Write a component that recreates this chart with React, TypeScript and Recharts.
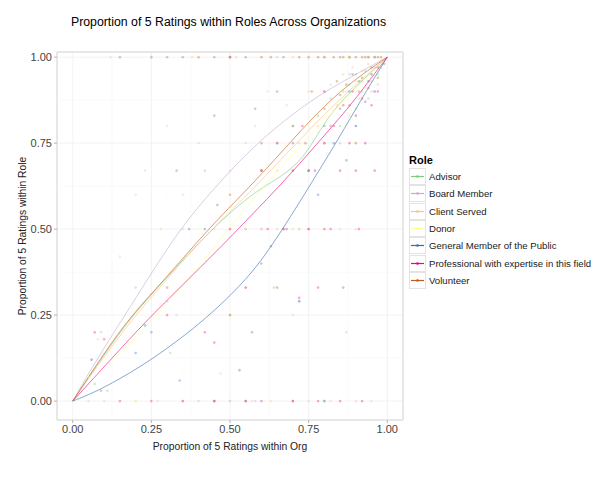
import React from 'react';
import { ComposedChart, Line, Scatter, XAxis, YAxis, CartesianGrid, ReferenceLine, ReferenceArea } from 'recharts';

type Pt = [number, number];

// role names and their colours (Brewer "Accent")
const roles = [
  'Advisor',
  'Board Member',
  'Client Served',
  'Donor',
  'General Member of the Public',
  'Professional with expertise in this field',
  'Volunteer',
];
const roleColors = ['#7fc97f', '#beaed4', '#fdc086', '#ffff99', '#386cb0', '#f0027f', '#bf5b17'];

const axisTicks = [0, 0.25, 0.5, 0.75, 1];
const minorTicks = [0.125, 0.375, 0.625, 0.875];

// smoothed trend per role
const advisorLine: Pt[] = [[0, 0], [0.1, 0.135], [0.19, 0.25], [0.3, 0.36], [0.43, 0.49], [0.562, 0.598], [0.64, 0.64], [0.72, 0.69], [0.774, 0.768], [0.826, 0.845], [0.9, 0.915], [1, 1]];
const boardLine: Pt[] = [[0, 0], [0.05, 0.08], [0.1, 0.155], [0.166, 0.25], [0.235, 0.35], [0.34, 0.5], [0.45, 0.62], [0.562, 0.729], [0.67, 0.815], [0.774, 0.884], [0.86, 0.93], [0.93, 0.965], [1, 1]];
const clientLine: Pt[] = [[0, 0], [0.1, 0.13], [0.2, 0.25], [0.3, 0.355], [0.43, 0.49], [0.562, 0.605], [0.67, 0.71], [0.774, 0.81], [0.88, 0.905], [1, 1]];
const donorLine: Pt[] = [[0, 0], [0.1, 0.09], [0.267, 0.25], [0.363, 0.35], [0.46, 0.46], [0.562, 0.575], [0.67, 0.69], [0.774, 0.79], [0.88, 0.89], [1, 1]];
const publicLine: Pt[] = [[0, 0], [0.05, 0.018], [0.118, 0.048], [0.235, 0.11], [0.363, 0.195], [0.45, 0.262], [0.555, 0.355], [0.641, 0.46], [0.774, 0.656], [0.869, 0.8], [0.932, 0.9], [1, 1]];
const proLine: Pt[] = [[0, 0], [0.1, 0.1], [0.235, 0.235], [0.347, 0.335], [0.5, 0.475], [0.562, 0.535], [0.668, 0.635], [0.774, 0.745], [0.879, 0.855], [0.937, 0.925], [1, 1]];
const volunteerLine: Pt[] = [[0, 0], [0.1, 0.14], [0.187, 0.25], [0.289, 0.35], [0.43, 0.5], [0.562, 0.622], [0.67, 0.73], [0.774, 0.836], [0.88, 0.925], [1, 1]];

// org-level points per role
const advisorPts: Pt[] = [[0.07, 0.05], [0.11, 0.03], [0.2, 0.33], [0.31, 0.14], [0.42, 0.67], [0.5, 0], [0.55, 0.5], [0.6, 0.67], [0.65, 0.75], [0.7, 0.8], [0.72, 0.5], [0.75, 0.67], [0.78, 0.83], [0.8, 0.75], [0.82, 0.88], [0.85, 0.8], [0.86, 0.9], [0.88, 0.92], [0.9, 0.85], [0.9, 0.95], [0.92, 0.9], [0.93, 0.96], [0.94, 0.88], [0.95, 0.93], [0.96, 1], [0.97, 0.95], [0.98, 0.97], [0.88, 1], [0.64, 0.33], [0.8, 0]];
const boardPts: Pt[] = [[0.06, 0.12], [0.09, 0.2], [0.3, 0.29], [0.45, 0], [0.5, 0.25], [0.6, 0.5], [0.65, 1], [0.7, 0.67], [0.75, 0.5], [0.8, 0.9], [0.85, 0.75], [0.88, 0.95], [0.9, 0.8], [0.92, 0.93], [0.94, 1], [0.95, 0.9], [0.96, 0.97], [0.97, 0.92], [0.72, 0.29], [0.87, 0.2], [0.58, 0], [0.4, 0]];
const clientPts: Pt[] = [[0.05, 0], [0.08, 0.18], [0.12, 1], [0.15, 0.42], [0.2, 0.6], [0.23, 0.67], [0.28, 0.5], [0.3, 0.8], [0.35, 0.6], [0.38, 1], [0.4, 0.75], [0.45, 0.5], [0.5, 0.67], [0.52, 1], [0.55, 0.75], [0.58, 0.8], [0.6, 0.5], [0.62, 0.9], [0.65, 0.67], [0.68, 0.86], [0.7, 1], [0.72, 0.75], [0.75, 0.9], [0.78, 0.8], [0.8, 1], [0.82, 0.92], [0.84, 0.86], [0.86, 0.95], [0.87, 0.9], [0.88, 0.83], [0.89, 0.97], [0.9, 0.93], [0.91, 0.88], [0.92, 0.96], [0.93, 0.91], [0.94, 0.98], [0.95, 0.94], [0.96, 0.9], [0.97, 0.96], [0.98, 0.99], [0.33, 0.25], [0.55, 0.33], [0.7, 0.25], [0.85, 0.5], [0.75, 0], [0.9, 0], [0.63, 0], [0.27, 0], [0.47, 0.08], [0.35, 0.5], [0.5, 0.5], [0.55, 0.5], [0.65, 0.5], [0.7, 0.5], [0.75, 0.5], [0.8, 0.5], [0.9, 0.5], [0.1, 0], [0.2, 0], [0.35, 0], [0.57, 0], [0.82, 0], [0.95, 0]];
const donorPts: Pt[] = [[0.05, 0.07], [0.1, 0.25], [0.2, 0], [0.35, 0.08], [0.4, 0.5], [0.5, 0.25], [0.55, 0.67], [0.6, 1], [0.65, 0.33], [0.7, 0.5], [0.75, 0.8], [0.8, 0.67], [0.85, 0.9], [0.88, 1], [0.9, 0.75], [0.92, 0.88], [0.95, 0.95], [0.97, 0.92], [0.3, 0.6], [0.45, 0.75]];
const publicPts: Pt[] = [[0.06, 0.12], [0.2, 0.14], [0.23, 0.22], [0.25, 0.2], [0.34, 0.06], [0.37, 0.5], [0.42, 0.5], [0.46, 0.57], [0.53, 0.09], [0.57, 0.2], [0.6, 0.4], [0.63, 0.45], [0.67, 0.5], [0.7, 0.75], [0.72, 0.29], [0.75, 0.67], [0.78, 0.6], [0.8, 0.8], [0.83, 0.75], [0.85, 0.85], [0.87, 0.7], [0.88, 0.9], [0.9, 0.8], [0.91, 0.93], [0.93, 0.87], [0.95, 0.95], [0.96, 0.9], [0.97, 0.97], [0.8, 0], [0.55, 0], [0.86, 0.33]];
const proPts: Pt[] = [[0.07, 0.2], [0.1, 0.18], [0.3, 0.25], [0.42, 0.2], [0.45, 0.17], [0.5, 0.5], [0.55, 0.33], [0.6, 0.67], [0.62, 0.5], [0.65, 0.75], [0.68, 0.5], [0.7, 0.67], [0.72, 0.3], [0.73, 0.8], [0.75, 0.5], [0.77, 0.67], [0.78, 0.33], [0.8, 0.75], [0.82, 0.5], [0.83, 0.8], [0.85, 0.67], [0.86, 0.86], [0.88, 0.75], [0.89, 0.9], [0.9, 0.83], [0.91, 0.5], [0.92, 0.88], [0.93, 0.75], [0.94, 0.93], [0.95, 0.86], [0.96, 0.67], [0.97, 0.9], [0.5, 1], [0.7, 0], [0.85, 0], [0.35, 0], [0.6, 0], [0.9, 0.67], [0.8, 0.9], [0.15, 0], [0.25, 0], [0.45, 0], [0.55, 0], [0.78, 0], [0.92, 0]];
const volunteerPts: Pt[] = [[0.09, 0.03], [0.15, 1], [0.25, 1], [0.3, 0.33], [0.33, 0.67], [0.4, 1], [0.45, 0.83], [0.5, 0.6], [0.55, 1], [0.58, 0.85], [0.6, 0.75], [0.63, 1], [0.65, 0.9], [0.67, 0.5], [0.7, 0.8], [0.72, 1], [0.74, 0.75], [0.76, 0.9], [0.78, 1], [0.8, 0.85], [0.82, 0.8], [0.83, 1], [0.84, 0.93], [0.85, 0.89], [0.86, 1], [0.87, 0.92], [0.88, 0.86], [0.89, 0.95], [0.9, 1], [0.91, 0.9], [0.92, 0.94], [0.93, 1], [0.94, 0.91], [0.95, 0.97], [0.96, 1], [0.97, 0.94], [0.98, 1], [0.99, 0.98], [0.6, 0.67], [0.75, 0.67], [0.8, 0.5], [0.9, 0.75], [0.5, 0.25], [0.65, 0.33], [0.7, 0], [0.45, 0], [0.3, 1], [0.35, 1], [0.45, 1], [0.5, 1], [0.6, 1], [0.67, 1], [0.75, 1], [0.8, 1], [0.85, 1], [0.88, 1], [0.92, 1], [0.94, 1], [0.97, 1]];

const trendLines = [advisorLine, boardLine, clientLine, donorLine, publicLine, proLine, volunteerLine];
const pointSets = [advisorPts, boardPts, clientPts, donorPts, publicPts, proPts, volunteerPts];

const toRows = (pts: Pt[]) => pts.map(([x, y]) => ({ x, y }));
const fmt = (v: number) => v.toFixed(2);
const FONT = '"Liberation Sans", Arial, Helvetica, sans-serif';

const Dot = (color: string) => (props: any) => (
  <circle cx={props.cx} cy={props.cy} r={1.3} fill={color} fillOpacity={0.35} />
);

const RoleLegend = () => (
  <div style={{ position: 'absolute', left: 409, top: 152, fontFamily: FONT }}>
    <div style={{ fontSize: 11, fontWeight: 'bold', color: '#000', height: 16, lineHeight: '16px' }}>Role</div>
    {roles.map((r, i) => (
      <div key={r} style={{ display: 'flex', alignItems: 'center', height: 17.3 }}>
        <svg width={17} height={17} style={{ display: 'block' }}>
          <rect x={0.5} y={0.5} width={16} height={16} fill="#fff" stroke="#e3e3e3" />
          <line x1={2} x2={15} y1={8.5} y2={8.5} stroke={roleColors[i]} strokeWidth={1.2} />
          <circle cx={8.5} cy={8.5} r={1.3} fill={roleColors[i]} />
        </svg>
        <span style={{ fontSize: 9.6, color: '#1a1a1a', marginLeft: 3, whiteSpace: 'nowrap' }}>{r}</span>
      </div>
    ))}
  </div>
);

export default function App() {
  return (
    <div style={{ position: 'absolute', left: 0, top: 0, width: 592, height: 479, background: '#fff', fontFamily: FONT }}>
      <div style={{ position: 'absolute', left: 0, width: 457, top: 15, textAlign: 'center', fontSize: 12.3, color: '#000' }}>
        Proportion of 5 Ratings within Roles Across Organizations
      </div>
      <ComposedChart width={592} height={479} margin={{ top: 52, right: 189, bottom: 29, left: 7 }}>
        <CartesianGrid stroke="#f0f0f0" strokeWidth={0.8} />
        {minorTicks.map((t) => (
          <ReferenceLine key={'vx' + t} x={t} stroke="#f7f7f7" strokeWidth={0.6} />
        ))}
        {minorTicks.map((t) => (
          <ReferenceLine key={'hy' + t} y={t} stroke="#f7f7f7" strokeWidth={0.6} />
        ))}
        <XAxis
          type="number"
          dataKey="x"
          domain={[-0.05, 1.05]}
          allowDataOverflow
          ticks={axisTicks}
          tickFormatter={fmt}
          axisLine={false}
          tickSize={3}
          tickMargin={2}
          tickLine={{ stroke: '#b3b3b3' }}
          tick={{ fill: '#444', fontSize: 11, fontFamily: FONT }}
          height={30}
        />
        <YAxis
          type="number"
          dataKey="y"
          domain={[-0.055, 1.015]}
          allowDataOverflow
          ticks={axisTicks}
          tickFormatter={fmt}
          axisLine={false}
          tickSize={3}
          tickMargin={2}
          tickLine={{ stroke: '#b3b3b3' }}
          tick={{ fill: '#444', fontSize: 11, fontFamily: FONT }}
          width={50}
        />
        {pointSets.map((pts, i) => (
          <Scatter
            key={'s' + roles[i]}
            data={toRows(pts)}
            dataKey="y"
            shape={Dot(roleColors[i])}
            isAnimationActive={false}
          />
        ))}
        {trendLines.map((pts, i) => (
          <Line
            key={'l' + roles[i]}
            data={toRows(pts)}
            dataKey="y"
            type="basis"
            stroke={roleColors[i]}
            strokeOpacity={0.6}
            strokeWidth={1}
            dot={false}
            activeDot={false}
            isAnimationActive={false}
          />
        ))}
        <ReferenceArea x1={-0.05} x2={1.05} y1={-0.055} y2={1.015} fill="none" stroke="#d6d6d6" strokeWidth={1} ifOverflow="visible" />
      </ComposedChart>
      <div style={{ position: 'absolute', left: 57, width: 346, top: 441, textAlign: 'center', fontSize: 10.3, color: '#222' }}>
        Proportion of 5 Ratings within Org
      </div>
      <div
        style={{
          position: 'absolute',
          left: 22,
          top: 236,
          transform: 'translate(-50%, -50%) rotate(-90deg)',
          whiteSpace: 'nowrap',
          fontSize: 10.3,
          color: '#222',
        }}
      >
        Proportion of 5 Ratings within Role
      </div>
      <RoleLegend />
    </div>
  );
}
